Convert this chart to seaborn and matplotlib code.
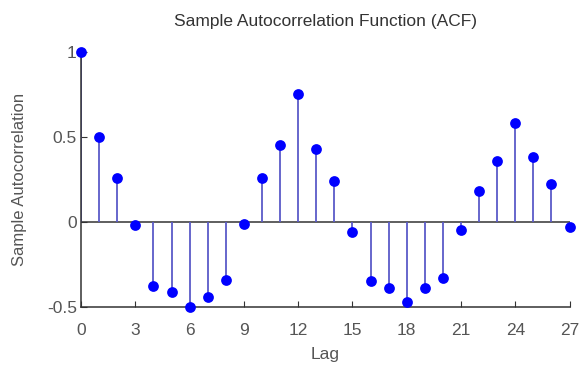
import numpy as np
import pandas as pd
import matplotlib
matplotlib.use("Agg")
import matplotlib.pyplot as plt
import seaborn as sns

# valores
lags = list(range(28))
acf = [1.00, 0.50, 0.26, -0.02, -0.38, -0.41, -0.50, -0.44, -0.34, -0.01,
       0.26, 0.45, 0.75, 0.43, 0.24, -0.06, -0.35, -0.39, -0.47, -0.39,
       -0.33, -0.05, 0.18, 0.36, 0.58, 0.38, 0.22, -0.03]
xticks = [0, 3, 6, 9, 12, 15, 18, 21, 24, 27]
yticks = [-0.5, 0, 0.5, 1]
yticklabels = ["-0.5", "0", "0.5", "1"]

df = pd.DataFrame({"Lag": lags, "ACF": acf})

sns.set_style("white")
plt.rcParams['font.family'] = ['Liberation Sans', 'DejaVu Sans']

fig = plt.figure(figsize=(5.83, 3.71), dpi=100)
ax = fig.add_axes([0.139, 0.173, 0.838, 0.687])

ax.axhline(0, color="#333333", lw=1.1, zorder=1)
ax.vlines(df["Lag"], 0, df["ACF"], color="#5a5ac8", lw=1.3, zorder=2)
sns.scatterplot(data=df, x="Lag", y="ACF", color="#0000ff", s=60,
                edgecolor="#0000ff", linewidth=0, ax=ax, zorder=3, clip_on=False)

ax.set_xlim(0, 27)
ax.set_ylim(-0.5, 1)
ax.set_xticks(xticks)
ax.set_yticks(yticks)
ax.set_yticklabels(yticklabels)

for s in ["top", "right"]:
    ax.spines[s].set_visible(False)
for s in ["left", "bottom"]:
    ax.spines[s].set_color("#333333")
    ax.spines[s].set_linewidth(1.1)

ax.tick_params(direction="in", length=4, color="#333333", labelcolor="#555555",
               labelsize=12.5, left=True, bottom=True)
ax.tick_params(axis="x", pad=12)
ax.tick_params(axis="y", pad=3)

ax.set_title("Sample Autocorrelation Function (ACF)", fontsize=12.5, color="#333333", pad=19)
ax.set_xlabel("Lag", fontsize=12.5, color="#555555", labelpad=6)
ax.set_ylabel("Sample Autocorrelation", fontsize=12, color="#555555", labelpad=14)

fig.savefig("out.png", dpi=100)
